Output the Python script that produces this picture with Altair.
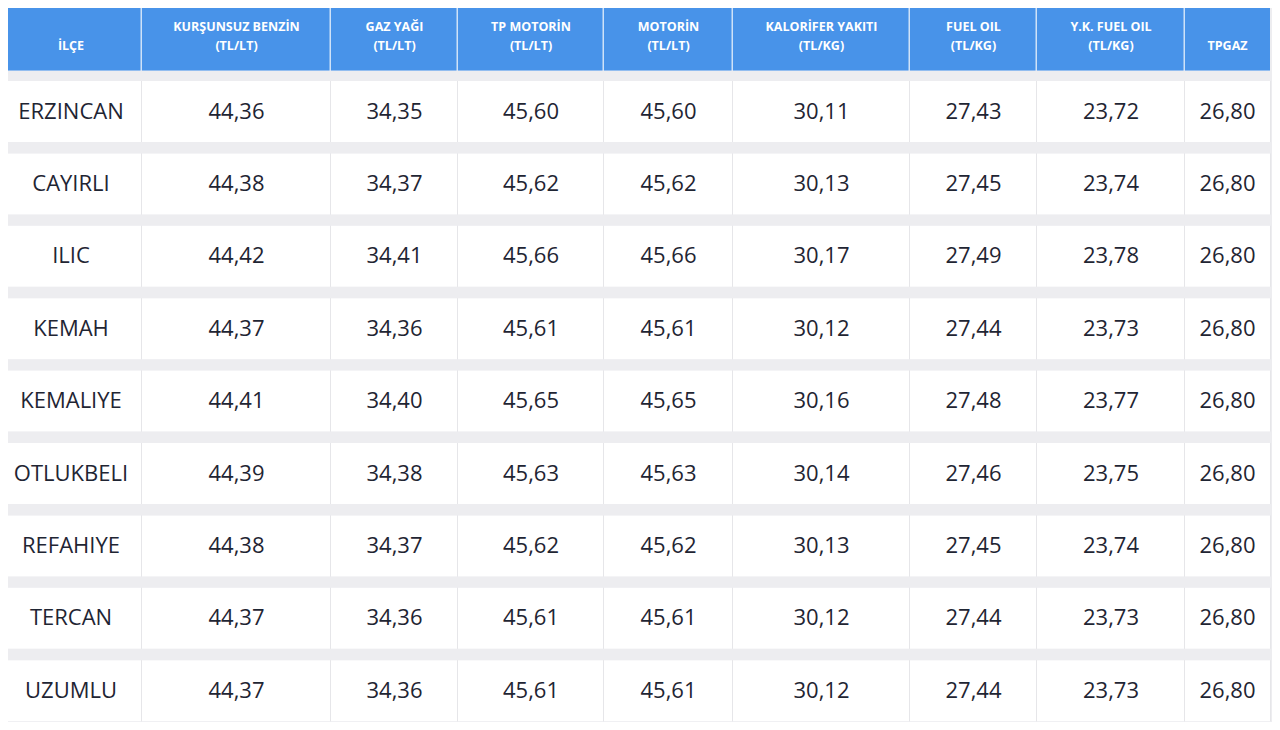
import altair as alt
import pandas as pd

# ---- data ----
districts = ["ERZINCAN", "CAYIRLI", "ILIC", "KEMAH", "KEMALIYE",
             "OTLUKBELI", "REFAHIYE", "TERCAN", "UZUMLU"]
headers = [["İLÇE"], ["KURŞUNSUZ BENZİN", "(TL/LT)"], ["GAZ YAĞI", "(TL/LT)"],
           ["TP MOTORİN", "(TL/LT)"], ["MOTORİN", "(TL/LT)"],
           ["KALORİFER YAKITI", "(TL/KG)"], ["FUEL OIL", "(TL/KG)"],
           ["Y.K. FUEL OIL", "(TL/KG)"], ["TPGAZ"]]
kursunsuz_benzin = [44.36, 44.38, 44.42, 44.37, 44.41, 44.39, 44.38, 44.37, 44.37]
gaz_yagi = [34.35, 34.37, 34.41, 34.36, 34.40, 34.38, 34.37, 34.36, 34.36]
tp_motorin = [45.60, 45.62, 45.66, 45.61, 45.65, 45.63, 45.62, 45.61, 45.61]
motorin = [45.60, 45.62, 45.66, 45.61, 45.65, 45.63, 45.62, 45.61, 45.61]
kalorifer = [30.11, 30.13, 30.17, 30.12, 30.16, 30.14, 30.13, 30.12, 30.12]
fuel_oil = [27.43, 27.45, 27.49, 27.44, 27.48, 27.46, 27.45, 27.44, 27.44]
yk_fuel_oil = [23.72, 23.74, 23.78, 23.73, 23.77, 23.75, 23.74, 23.73, 23.73]
tpgaz = [26.80, 26.80, 26.80, 26.80, 26.80, 26.80, 26.80, 26.80, 26.80]

value_cols = [kursunsuz_benzin, gaz_yagi, tp_motorin, motorin, kalorifer,
              fuel_oil, yk_fuel_oil, tpgaz]

# ---- layout (pixels in reference-page space, shifted by the 8px page margin) ----
W, H = 1264, 714
OFF = 8
col_edges = [0, 142, 331, 458, 604, 733, 910, 1037, 1185, 1270]
header_top, header_bot = 4, 70.5
row_top0, row_pitch, row_h = 81, 72.4, 61
line1_y, line2_y = 27, 46

BG = "#ededf0"
BLUE = "#4893e9"
HDR_DIV = "#cfe2f8"
TXT = "#1f2533"
FONT = "Open Sans"


def cx(v):
    return min(W, max(0, v - OFF))


def cy(v):
    return min(H, max(0, v - OFF))


def fmt(v):
    return f"{v:.2f}".replace(".", ",")


# header cells
hdr_cells, hdr_text = [], []
for j, lines in enumerate(headers):
    x0, x1 = col_edges[j], col_edges[j + 1]
    hdr_cells.append({"x": cx(x0), "x2": cx(x1) - (1.5 if j < len(headers) - 1 else 0),
                      "y": cy(header_top), "y2": cy(header_bot)})
    ys = [line2_y] if len(lines) == 1 else [line1_y, line2_y]
    for t, yy in zip(lines, ys):
        hdr_text.append({"x": cx((x0 + x1) / 2), "y": cy(yy), "t": t})

body_cells, body_text = [], []
for i, d in enumerate(districts):
    top = row_top0 + i * row_pitch
    vals = [d] + [fmt(c[i]) for c in value_cols]
    for j, t in enumerate(vals):
        x0, x1 = col_edges[j], col_edges[j + 1]
        body_cells.append({"x": cx(x0), "x2": cx(x1) - (1 if j < len(vals) - 1 else 0),
                           "y": cy(top), "y2": cy(top + row_h)})
        body_text.append({"x": cx((x0 + x1) / 2), "y": cy(top + row_h / 2), "t": t})

xs = alt.Scale(domain=[0, W], nice=False, zero=False)
ys_ = alt.Scale(domain=[0, H], nice=False, zero=False, reverse=True)

hdr_back = alt.Chart(pd.DataFrame([{"x": cx(col_edges[0]), "x2": cx(col_edges[-1]),
                                    "y": cy(header_top), "y2": cy(header_bot)}])).mark_rect(
    color=HDR_DIV).encode(
    x=alt.X("x:Q", scale=xs, axis=None), x2="x2:Q",
    y=alt.Y("y:Q", scale=ys_, axis=None), y2="y2:Q")

hdr = alt.Chart(pd.DataFrame(hdr_cells)).mark_rect(color=BLUE).encode(
    x=alt.X("x:Q", scale=xs, axis=None), x2="x2:Q",
    y=alt.Y("y:Q", scale=ys_, axis=None), y2="y2:Q")

row_back = alt.Chart(pd.DataFrame([{"x": c["x"], "x2": c["x2"] + 1, "y": c["y"], "y2": c["y2"]}
                                   for c in body_cells])).mark_rect(color="#e6e6e9").encode(
    x=alt.X("x:Q", scale=xs, axis=None), x2="x2:Q",
    y=alt.Y("y:Q", scale=ys_, axis=None), y2="y2:Q")

body = alt.Chart(pd.DataFrame(body_cells)).mark_rect(color="#ffffff").encode(
    x=alt.X("x:Q", scale=xs, axis=None), x2="x2:Q",
    y=alt.Y("y:Q", scale=ys_, axis=None), y2="y2:Q")

hdr_txt = alt.Chart(pd.DataFrame(hdr_text)).mark_text(
    font=FONT, fontSize=12.5, fontWeight="bold", color="#ffffff",
    align="center", baseline="middle").encode(
    x=alt.X("x:Q", scale=xs, axis=None), y=alt.Y("y:Q", scale=ys_, axis=None), text="t:N")

body_txt = alt.Chart(pd.DataFrame(body_text)).mark_text(
    font=FONT, fontSize=22, color=TXT, align="center", baseline="middle").encode(
    x=alt.X("x:Q", scale=xs, axis=None), y=alt.Y("y:Q", scale=ys_, axis=None), text="t:N")

chart = alt.layer(hdr_back, hdr, row_back, body, hdr_txt, body_txt).properties(
    width=W, height=H, padding=0, background=BG,
    autosize=alt.AutoSizeParams(type="none")
).configure_view(stroke=None)

chart.save("out.html", embed_options={"renderer": "svg", "actions": False})
